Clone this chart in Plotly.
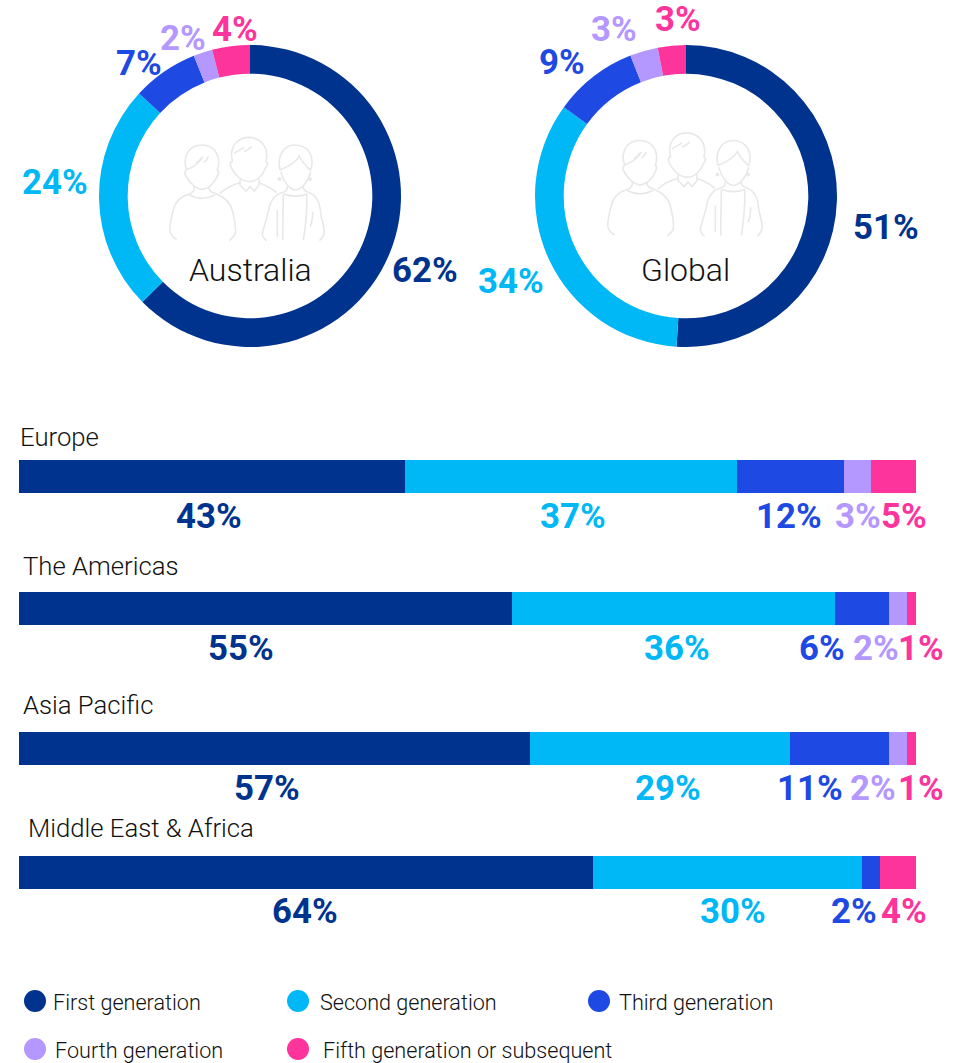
import plotly.graph_objects as go

W, H = 962, 1063

# ---- data ----
generations = ["First generation", "Second generation", "Third generation",
               "Fourth generation", "Fifth generation or subsequent"]
australia = [62, 24, 7, 2, 4]
global_all = [51, 34, 9, 3, 3]
regions = ["Europe", "The Americas", "Asia Pacific", "Middle East & Africa"]
europe = [43, 37, 12, 3, 5]
americas = [55, 36, 6, 2, 1]
asia_pacific = [57, 29, 11, 2, 1]
mea = [64, 30, 2, None, 4]

# ---- styles and layout positions ----
colors = ["#00338D", "#00B8F5", "#1E49E2", "#B497FF", "#FD349C"]
TEXT = "#111111"
LIGHT = "Roboto Light, Roboto, sans-serif"
BOLD = "Roboto, sans-serif"
LABEL_SIZE = 34.8


def px(x):
    return x / W


def py(y):
    return 1 - y / H


donut_boxes = [(99, 401, 45, 347), (535, 837, 45, 347)]
donut_label_pos = [
    [(425, 270), (55, 182), (139, 63), (183, 38), (235, 29)],
    [(886, 227), (511, 281), (562, 62), (614, 29), (678, 19)],
]
donut_names = [("Australia", 250, 270), ("Global", 685, 270)]
bar_rows = [(460, 493), (592, 625), (732, 765), (856, 889)]
bar_x = (19, 916)
bar_label_y = [516, 648, 788, 911]
bar_label_x = [
    [209, 573, 789, 858, 904],
    [241, 677, 822, 876, 921],
    [267, 668, 810, 873, 921],
    [305, 733, 854, None, 904],
]
title_pos = [(20, 437), (23, 566), (23, 705), (28, 828)]
legend_pos = [(35, 1001, 53), (298, 1001, 320), (599, 1001, 619),
              (35, 1049, 55), (298, 1049, 323)]

fig = go.Figure()
annotations = []
shapes = []


def text(x, y, s, size, color, family, weight=None, anchor="center"):
    annotations.append(dict(
        x=px(x), y=py(y), xref="paper", yref="paper", text=s, showarrow=False,
        xanchor=anchor, yanchor="middle", borderpad=0, borderwidth=0,
        font=dict(size=size, color=color, family=family, weight=weight)))


# ---- donuts ----
for vals, box, pos, (name, nx, ny) in zip([australia, global_all], donut_boxes,
                                          donut_label_pos, donut_names):
    fig.add_trace(go.Pie(
        labels=generations, values=vals, hole=0.81, sort=False,
        direction="clockwise", rotation=0, textinfo="none", showlegend=False,
        marker=dict(colors=colors, line=dict(width=0)),
        domain=dict(x=[px(box[0]), px(box[1])], y=[py(box[3]), py(box[2])])))
    for v, (x, y), c in zip(vals, pos, colors):
        text(x, y, f"{v}%", LABEL_SIZE, c, BOLD, 700)
    text(nx, ny, name, 32, TEXT, LIGHT, 300)

# ---- stacked bars ----
for i, (region, vals, row) in enumerate(zip(regions, [europe, americas, asia_pacific, mea], bar_rows)):
    ya = "y" if i == 0 else f"y{i + 1}"
    for g, v, c in zip(generations, vals, colors):
        if v is None:
            continue
        fig.add_trace(go.Bar(x=[v], y=[region], orientation="h", name=g, xaxis="x",
                             yaxis=ya, marker=dict(color=c, line=dict(width=0)),
                             showlegend=False))
    key = "yaxis" if i == 0 else f"yaxis{i + 1}"
    fig.update_layout({key: dict(domain=[py(row[1]), py(row[0])], visible=False,
                                 type="category", anchor="x", fixedrange=True)})
    for v, x, c in zip(vals, bar_label_x[i], colors):
        if v is not None:
            text(x, bar_label_y[i], f"{v}%", LABEL_SIZE, c, BOLD, 700)
    text(title_pos[i][0], title_pos[i][1], region, 25.7, TEXT, LIGHT, 300, "left")

# ---- legend ----
for g, c, (cx, cy, tx) in zip(generations, colors, legend_pos):
    shapes.append(dict(type="circle", xref="paper", yref="paper", x0=px(cx - 11), x1=px(cx + 11),
                       y0=py(cy + 11), y1=py(cy - 11), fillcolor=c, line=dict(width=0)))
    text(tx, cy + 1, g, 21.6, TEXT, LIGHT, 300, "left")

# ---- people icon (decoration), coordinates in a 3x local grid ----
icon_paths = [
    [("M", 80, 120), ("C", 65, 75, 90, 45, 125, 45), ("C", 165, 45, 185, 80, 172, 120),
     ("Q", 180, 125, 172, 138), ("C", 165, 158, 145, 178, 125, 178),
     ("C", 110, 178, 90, 160, 78, 138), ("Q", 70, 125, 80, 120)],
    [("M", 82, 118), ("C", 105, 110, 120, 95, 130, 80)],
    [("M", 108, 100), ("Q", 118, 95, 125, 82)],
    [("M", 130, 98), ("Q", 140, 92, 145, 80)],
    [("M", 103, 170), ("Q", 105, 185, 88, 192), ("C", 60, 200, 45, 215, 40, 240),
     ("C", 32, 270, 28, 295, 30, 305), ("Q", 35, 320, 50, 328)],
    [("M", 147, 170), ("Q", 145, 185, 165, 190), ("C", 190, 200, 212, 215, 218, 245),
     ("C", 225, 275, 228, 295, 226, 310), ("Q", 222, 320, 208, 332)],
    [("M", 88, 195), ("Q", 125, 215, 165, 195)],
    [("M", 218, 95), ("C", 205, 50, 235, 22, 265, 22), ("C", 300, 22, 328, 50, 318, 95),
     ("Q", 328, 100, 316, 115), ("C", 310, 135, 290, 155, 268, 155),
     ("C", 245, 155, 225, 135, 215, 115), ("Q", 205, 95, 218, 95)],
    [("M", 222, 70), ("Q", 240, 60, 252, 52)],
    [("M", 252, 65), ("Q", 265, 60, 275, 50)],
    [("M", 240, 148), ("L", 240, 165), ("L", 258, 183), ("L", 270, 170), ("L", 283, 183),
     ("L", 297, 165), ("L", 297, 148)],
    [("M", 240, 158), ("Q", 200, 170, 180, 190)],
    [("M", 297, 158), ("Q", 330, 170, 350, 188)],
    [("M", 360, 120), ("C", 350, 80, 370, 45, 405, 45), ("C", 445, 45, 465, 80, 452, 120)],
    [("M", 360, 120), ("C", 385, 110, 410, 95, 418, 78), ("C", 425, 95, 440, 110, 452, 122)],
    [("M", 362, 125), ("C", 370, 155, 390, 180, 405, 180), ("C", 425, 180, 445, 155, 452, 125)],
    [("M", 380, 170), ("Q", 385, 180, 370, 187), ("C", 340, 195, 330, 215, 325, 245),
     ("C", 318, 275, 308, 300, 307, 312), ("Q", 308, 325, 320, 332)],
    [("M", 430, 170), ("Q", 428, 180, 445, 187), ("C", 470, 195, 480, 220, 482, 250),
     ("C", 488, 280, 495, 300, 492, 310), ("Q", 490, 322, 478, 332)],
    [("M", 372, 192), ("Q", 405, 205, 442, 192)],
    [("M", 370, 192), ("L", 368, 330)],
    [("M", 440, 195), ("C", 442, 250, 435, 300, 430, 330)],
    [("M", 352, 240), ("L", 352, 320)],
    [("M", 458, 245), ("Q", 458, 275, 450, 290)],
    [("M", 354, 147), ("Q", 358, 140, 362, 147), ("Q", 358, 154, 354, 147)],
    [("M", 446, 147), ("Q", 450, 140, 454, 147), ("Q", 450, 154, 446, 147)],
]
for ox, oy in [(160, 130), (598, 125.5)]:
    d = []
    for path in icon_paths:
        for cmd in path:
            pts = cmd[1:]
            conv = []
            for k in range(0, len(pts), 2):
                conv.append(f"{px(ox + pts[k] / 3):.5f},{py(oy + pts[k + 1] / 3):.5f}")
            d.append(cmd[0] + " ".join(conv))
    shapes.append(dict(type="path", xref="paper", yref="paper", path=" ".join(d),
                       line=dict(color="#e8e8e8", width=1.6), layer="above"))

fig.update_layout(
    width=W, height=H, margin=dict(l=0, r=0, t=0, b=0), barmode="stack", bargap=0,
    paper_bgcolor="white", plot_bgcolor="white", showlegend=False,
    xaxis=dict(domain=[px(bar_x[0]), px(bar_x[1])], range=[0, 100], visible=False, fixedrange=True),
    annotations=annotations, shapes=shapes,
)
fig.write_html("out.html", config=dict(displayModeBar=False),
               post_script="document.body.style.margin='0';")
